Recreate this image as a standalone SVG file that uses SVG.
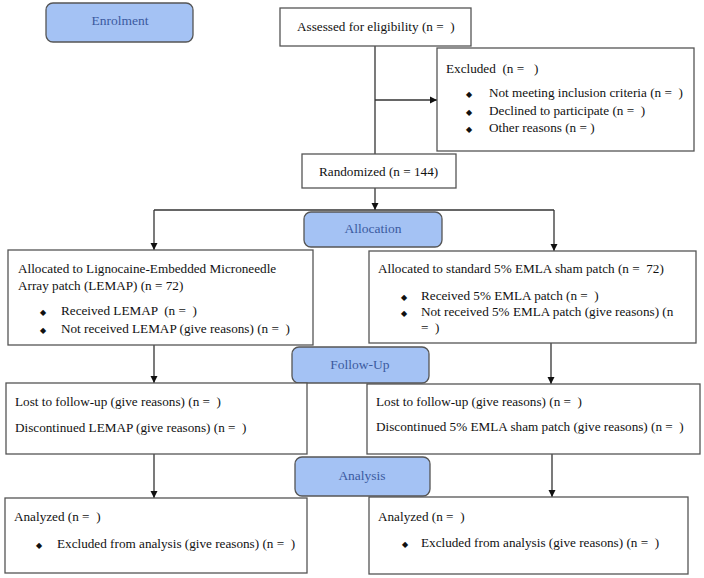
<svg xmlns="http://www.w3.org/2000/svg" width="704" height="578" viewBox="0 0 704 578" xml:space="preserve">
<defs>
<marker id="ah" markerWidth="8" markerHeight="8" refX="7" refY="4" orient="auto" markerUnits="userSpaceOnUse">
<path d="M0,0.5 L7,4 L0,7.5 Z" fill="#111"/>
</marker>
<style>
.box{fill:#fff;stroke:#555;stroke-width:1.3}
.stage{fill:#a4c2f4;stroke:#555;stroke-width:1.3}
.t{font-family:"Liberation Serif","Times New Roman",serif;font-size:13.2px;fill:#111;white-space:pre}
.h{font-family:"Liberation Serif","Times New Roman",serif;font-size:13.5px;fill:#3b5aa0;text-anchor:middle}
.b{font-family:"DejaVu Sans",sans-serif;font-size:8px;fill:#111}
.c{fill:none;stroke:#333;stroke-width:1.3}
</style>
</defs>
<rect width="704" height="578" fill="#fff"/>
<g id="connectors">
<line class="c" x1="375" y1="46" x2="375" y2="154"/>
<line class="c" x1="375" y1="100" x2="437" y2="100" marker-end="url(#ah)"/>
<line class="c" x1="375" y1="188" x2="375" y2="210" marker-end="url(#ah)"/>
<polyline class="c" points="154,210 154,250" marker-end="url(#ah)"/>
<line class="c" x1="154" y1="210" x2="554" y2="210"/>
<line class="c" x1="554" y1="210" x2="554" y2="251" marker-end="url(#ah)"/>
<line class="c" x1="154" y1="345" x2="154" y2="383" marker-end="url(#ah)"/>
<line class="c" x1="551" y1="343" x2="551" y2="384" marker-end="url(#ah)"/>
<line class="c" x1="154" y1="454" x2="154" y2="498" marker-end="url(#ah)"/>
<line class="c" x1="552" y1="454" x2="552" y2="497" marker-end="url(#ah)"/>
</g>
<g id="enrolment">
<rect class="stage" x="46" y="3" width="147" height="39" rx="7"/>
<text class="h" x="120" y="25">Enrolment</text>
</g>
<g id="assessed">
<rect class="box" x="280" y="8" width="191" height="38"/>
<text class="t" x="297" y="31">Assessed for eligibility (n =  )</text>
</g>
<g id="excluded">
<rect class="box" x="437" y="48" width="257" height="103"/>
<text class="t" x="446" y="73">Excluded  (n =   )</text>
<text class="b" x="466" y="97">◆</text>
<text class="t" x="489" y="97">Not meeting inclusion criteria (n =  )</text>
<text class="b" x="466" y="115">◆</text>
<text class="t" x="489" y="115">Declined to participate (n =  )</text>
<text class="b" x="466" y="132">◆</text>
<text class="t" x="489" y="132">Other reasons (n = )</text>
</g>
<g id="randomized">
<rect class="box" x="302" y="154" width="154" height="34"/>
<text class="t" x="319" y="176">Randomized (n = 144)</text>
</g>
<g id="allocation">
<rect class="stage" x="304" y="212" width="138" height="35" rx="7"/>
<text class="h" x="373" y="233">Allocation</text>
</g>
<g id="alloc-left">
<rect class="box" x="8" y="250" width="305" height="95"/>
<text class="t" x="18" y="273">Allocated to Lignocaine-Embedded Microneedle</text>
<text class="t" x="18" y="290">Array patch (LEMAP) (n = 72)</text>
<text class="b" x="40" y="315">◆</text>
<text class="t" x="61" y="315">Received LEMAP  (n =  )</text>
<text class="b" x="40" y="333">◆</text>
<text class="t" x="61" y="333">Not received LEMAP (give reasons) (n =  )</text>
</g>
<g id="alloc-right">
<rect class="box" x="369" y="251" width="327" height="92"/>
<text class="t" x="378" y="273">Allocated to standard 5% EMLA sham patch (n =  72)</text>
<text class="b" x="401" y="300">◆</text>
<text class="t" x="421" y="300">Received 5% EMLA patch (n =  )</text>
<text class="b" x="401" y="316">◆</text>
<text class="t" x="421" y="316">Not received 5% EMLA patch (give reasons) (n</text>
<text class="t" x="421" y="332">=  )</text>
</g>
<g id="followup">
<rect class="stage" x="292" y="347" width="137" height="36" rx="7"/>
<text class="h" x="360" y="369">Follow-Up</text>
</g>
<g id="follow-left">
<rect class="box" x="6" y="383" width="301" height="71"/>
<text class="t" x="15" y="406">Lost to follow-up (give reasons) (n =  )</text>
<text class="t" x="15" y="432">Discontinued LEMAP (give reasons) (n =  )</text>
</g>
<g id="follow-right">
<rect class="box" x="367" y="384" width="333" height="70"/>
<text class="t" x="376" y="406">Lost to follow-up (give reasons) (n =  )</text>
<text class="t" x="376" y="431">Discontinued 5% EMLA sham patch (give reasons) (n =  )</text>
</g>
<g id="analysis">
<rect class="stage" x="295" y="457" width="135" height="39" rx="7"/>
<text class="h" x="362" y="480">Analysis</text>
</g>
<g id="analyzed-left">
<rect class="box" x="5" y="498" width="302" height="75"/>
<text class="t" x="14" y="521">Analyzed (n =  )</text>
<text class="b" x="36" y="548">◆</text>
<text class="t" x="57" y="548">Excluded from analysis (give reasons) (n =  )</text>
</g>
<g id="analyzed-right">
<rect class="box" x="369" y="497" width="319" height="77"/>
<text class="t" x="378" y="521">Analyzed (n =  )</text>
<text class="b" x="402" y="547">◆</text>
<text class="t" x="421" y="547">Excluded from analysis (give reasons) (n =  )</text>
</g>
</svg>
